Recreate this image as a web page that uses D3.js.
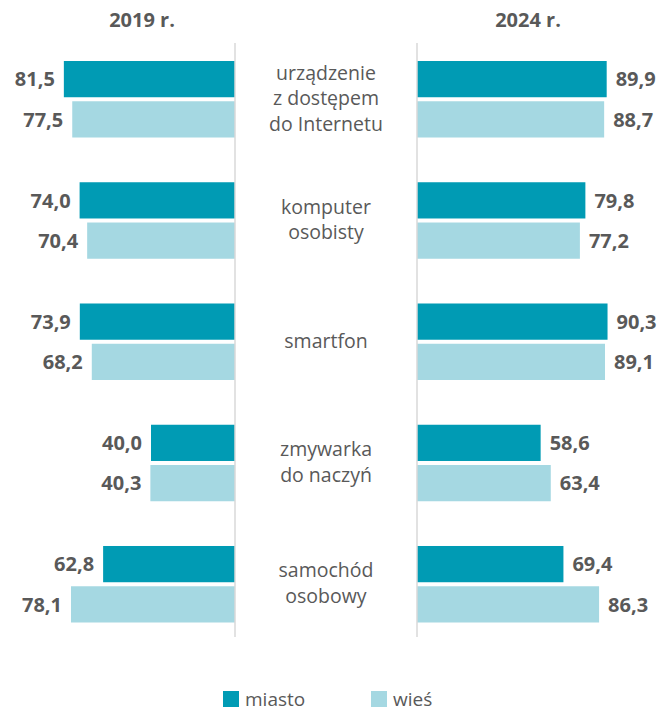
<!DOCTYPE html>
<html>
<head>
<meta charset="utf-8">
<script src="https://cdn.jsdelivr.net/npm/d3@7"></script>
<style>
  body { margin: 0; background: #fff; }
  text { font-family: "Open Sans", "Noto Sans", sans-serif; fill: #595959; }
</style>
</head>
<body>
<svg id="chart"></svg>
<script>
// data
var categories = [
  "urządzenie\nz dostępem\ndo Internetu",
  "komputer\nosobisty",
  "smartfon",
  "zmywarka\ndo naczyń",
  "samochód\nosobowy"
];
var years = ["2019 r.", "2024 r."];
var series = ["miasto", "wieś"];
var miasto2019 = [81.5, 74.0, 73.9, 40.0, 62.8];
var wies2019 = [77.5, 70.4, 68.2, 40.3, 78.1];
var miasto2024 = [89.9, 79.8, 90.3, 58.6, 69.4];
var wies2024 = [88.7, 77.2, 89.1, 63.4, 86.3];

var width = 661;
var height = 711;
var colors = ["#009BB4", "#A5D8E2"];

var svg = d3.select("#chart")
            .attr("width", width)
            .attr("height", height);

var y = d3.scaleBand()
          .domain(categories)
          .range([61, 622.5])
          .paddingInner(0.369)
          .paddingOuter(0);

var ySub = d3.scaleBand()
             .domain(series)
             .range([0, y.bandwidth()])
             .paddingInner(0.1);

var xLeft = d3.scaleLinear().domain([0, 100]).range([235, 25]);
var xRight = d3.scaleLinear().domain([0, 100]).range([417, 628]);

var fmt = function(v) { return d3.format(".1f")(v).replace(".", ","); };

function drawPanel(x, dataSets, side) {
  var g = svg.append("g");
  var rows = [];
  categories.forEach(function(c, i) {
    series.forEach(function(s, j) {
      rows.push({ cat: c, ser: s, idx: j, value: dataSets[j][i] });
    });
  });

  g.selectAll("rect")
    .data(rows)
    .enter()
    .append("rect")
      .attr("x", d => side === "left" ? x(d.value) : x(0))
      .attr("y", d => y(d.cat) + ySub(d.ser))
      .attr("width", d => Math.abs(x(d.value) - x(0)))
      .attr("height", ySub.bandwidth())
      .attr("fill", d => colors[d.idx]);

  g.selectAll(".val")
    .data(rows)
    .enter()
    .append("text")
      .classed("val", true)
      .attr("x", d => side === "left" ? x(d.value) - 9 : x(d.value) + 9)
      .attr("y", d => y(d.cat) + ySub(d.ser) + ySub.bandwidth() / 2)
      .attr("dy", "0.36em")
      .attr("text-anchor", side === "left" ? "end" : "start")
      .attr("font-size", "20px")
      .attr("font-weight", "bold")
      .text(d => fmt(d.value));

  // axis line
  g.append("line")
    .attr("x1", x(0)).attr("x2", x(0))
    .attr("y1", 43).attr("y2", 637)
    .attr("stroke", "#D9D9D9")
    .attr("stroke-width", 1.5);
}

drawPanel(xLeft, [miasto2019, wies2019], "left");
drawPanel(xRight, [miasto2024, wies2024], "right");

// year titles
svg.selectAll(".year")
  .data(years)
  .enter()
  .append("text")
    .classed("year", true)
    .attr("x", (d, i) => i === 0 ? 142 : 528)
    .attr("y", 27)
    .attr("text-anchor", "middle")
    .attr("font-size", "20px")
    .attr("font-weight", "bold")
    .text(d => d);

// category labels
var lineH = 25.5;
var catLabels = svg.selectAll(".cat")
  .data(categories)
  .enter()
  .append("text")
    .classed("cat", true)
    .attr("text-anchor", "middle")
    .attr("font-size", "19.5px");

catLabels.each(function(d) {
  var lines = d.split("\n");
  var mid = y(d) + y.bandwidth() / 2 + 6;
  d3.select(this).selectAll("tspan")
    .data(lines)
    .enter()
    .append("tspan")
      .attr("x", (xLeft(0) + xRight(0)) / 2)
      .attr("y", (l, i) => mid + (i - (lines.length - 1) / 2) * lineH)
      .text(l => l);
});

// legend
var legend = svg.selectAll(".legend")
  .data(series)
  .enter()
  .append("g")
    .classed("legend", true)
    .attr("transform", (d, i) => "translate(" + (223 + i * 148) + ",691)");

legend.append("rect")
  .attr("width", 16)
  .attr("height", 16)
  .attr("fill", (d, i) => colors[i]);

legend.append("text")
  .attr("x", 22)
  .attr("y", 15)
  .attr("font-size", "19px")
  .text(d => d);
</script>
</body>
</html>
